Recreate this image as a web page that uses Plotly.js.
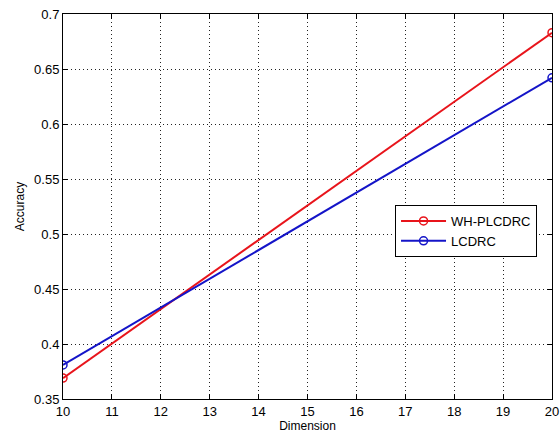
<!DOCTYPE html>
<html>
<head>
<meta charset="utf-8">
<script src="https://cdn.plot.ly/plotly-3.0.1.min.js"></script>
<style>html,body{margin:0;padding:0;background:#fff;}#chart{width:560px;height:439px;}</style>
</head>
<body>
<div id="chart"></div>
<script>
const dimensions = [10, 20];
const whPlcdrc = [0.369, 0.683];
const lcdrc = [0.381, 0.642];
const seriesNames = ['WH-PLCDRC', 'LCDRC'];
const xTicks = [10, 11, 12, 13, 14, 15, 16, 17, 18, 19, 20];
const yTicks = [0.35, 0.4, 0.45, 0.5, 0.55, 0.6, 0.65, 0.7];

const traces = [
  {x: dimensions, y: whPlcdrc, name: seriesNames[0], mode: 'lines+markers', type: 'scatter',
   line: {color: '#e8141b', width: 2}, marker: {symbol: 'circle-open', size: 8, color: '#e8141b', line: {width: 1.5}}},
  {x: dimensions, y: lcdrc, name: seriesNames[1], mode: 'lines+markers', type: 'scatter',
   line: {color: '#1414c8', width: 2}, marker: {symbol: 'circle-open', size: 8, color: '#1414c8', line: {width: 1.5}}}
];

const axisCommon = {
  showline: true, mirror: 'ticks', linecolor: '#000', linewidth: 1,
  ticks: 'inside', ticklen: 5, tickcolor: '#000',
  showgrid: true, gridcolor: '#222', griddash: '1px,3px', gridwidth: 1,
  zeroline: false, tickfont: {family: 'Liberation Sans, Arial', size: 13, color: '#000'}
};

const layout = {
  width: 560, height: 439,
  margin: {l: 63, r: 8, t: 14, b: 40},
  paper_bgcolor: '#fff', plot_bgcolor: '#fff',
  showlegend: true,
  legend: {x: 0.679, y: 0.504, xanchor: 'left', yanchor: 'top', bgcolor: '#fff', bordercolor: '#000', borderwidth: 1,
           font: {family: 'Liberation Sans, Arial', size: 13, color: '#000'}, tracegroupgap: 0, itemwidth: 45},
  xaxis: Object.assign({}, axisCommon, {range: [10, 20], tickvals: xTicks,
    title: {text: 'Dimension', font: {family: 'Liberation Sans, Arial', size: 12, color: '#000'}, standoff: 2}}),
  yaxis: Object.assign({}, axisCommon, {range: [0.35, 0.7], tickvals: yTicks,
    title: {text: 'Accuracy', font: {family: 'Liberation Sans, Arial', size: 12, color: '#000'}, standoff: 6}})
};

Plotly.newPlot('chart', traces, layout, {displayModeBar: false});
</script>
</body>
</html>
